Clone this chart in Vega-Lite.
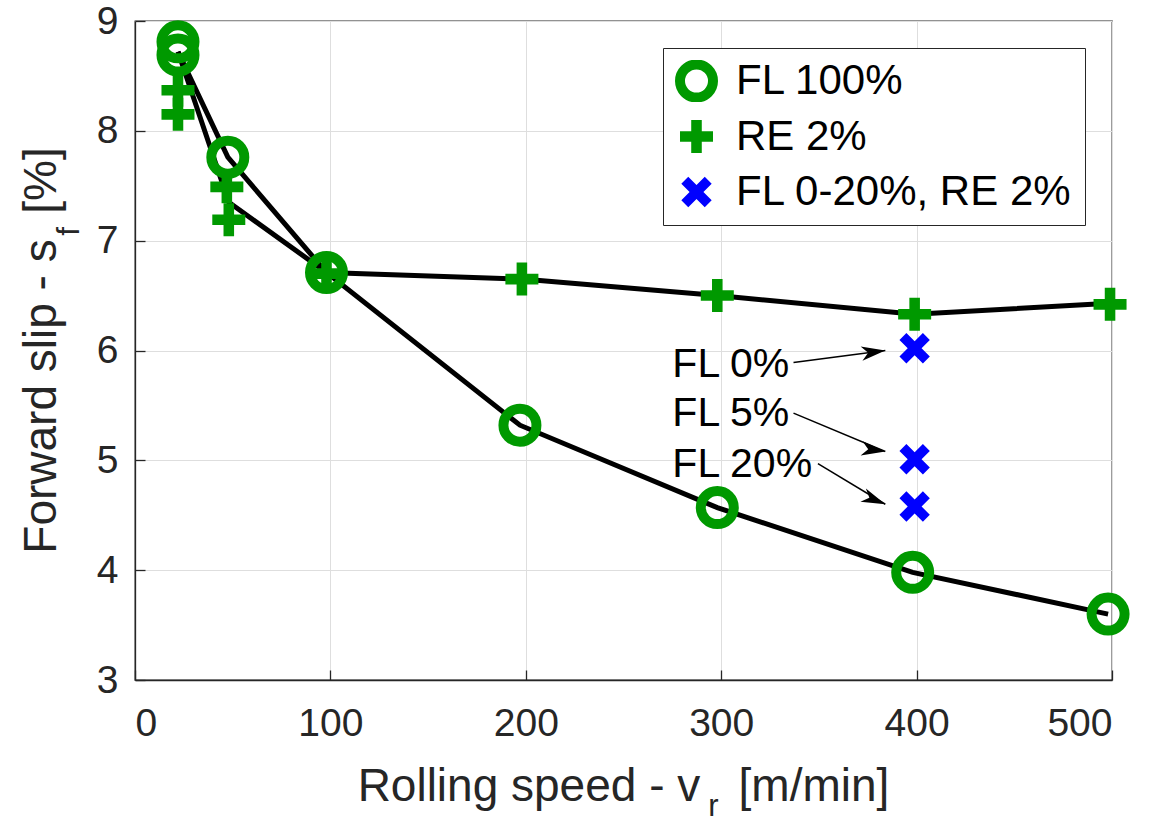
{
  "$schema": "https://vega.github.io/schema/vega-lite/v6.json",
  "width": 977,
  "height": 659,
  "autosize": "none",
  "padding": {"left": 135, "top": 21, "right": 63, "bottom": 139},
  "background": "white",
  "config": {
    "font": "Liberation Sans",
    "view": {"stroke": "#262626", "strokeWidth": 1.3},
    "axis": {
      "domainColor": "#262626", "domainWidth": 1.3,
      "tickColor": "#262626", "tickWidth": 1.3, "tickSize": -10,
      "labelFont": "Liberation Sans", "labelFontSize": 39, "labelColor": "#262626",
      "titleFont": "Liberation Sans", "titleFontSize": 46, "titleFontWeight": "normal", "titleColor": "#262626",
      "gridColor": "#dedede", "gridWidth": 1
    },
    "legend": {
      "orient": "none", "legendX": 528, "legendY": 27,
      "labelFont": "Liberation Sans", "labelFontSize": 42, "labelColor": "black",
      "symbolSize": 1089, "symbolStrokeWidth": 10,
      "strokeColor": "#262626", "fillColor": "white",
      "padding": 12, "rowPadding": 13.5, "clipHeight": 42, "labelOffset": 18, "labelLimit": 0
    }
  },
  "datasets": {
    "lines": [
      {"line": "FL 100%", "x": 22, "y": 8.72},
      {"line": "FL 100%", "x": 47.5, "y": 7.76},
      {"line": "FL 100%", "x": 98, "y": 6.71},
      {"line": "FL 100%", "x": 197, "y": 5.32},
      {"line": "FL 100%", "x": 298, "y": 4.57},
      {"line": "FL 100%", "x": 398, "y": 3.98},
      {"line": "FL 100%", "x": 498, "y": 3.6},
      {"line": "RE 2%", "x": 22, "y": 8.72},
      {"line": "RE 2%", "x": 48, "y": 7.35},
      {"line": "RE 2%", "x": 98, "y": 6.71},
      {"line": "RE 2%", "x": 198, "y": 6.65},
      {"line": "RE 2%", "x": 298, "y": 6.5},
      {"line": "RE 2%", "x": 399, "y": 6.33},
      {"line": "RE 2%", "x": 499, "y": 6.43}
    ],
    "points": [
      {"series": "FL 100%", "x": 22, "y": 8.81},
      {"series": "FL 100%", "x": 22, "y": 8.69},
      {"series": "FL 100%", "x": 47.5, "y": 7.76},
      {"series": "FL 100%", "x": 98, "y": 6.71},
      {"series": "FL 100%", "x": 197, "y": 5.32},
      {"series": "FL 100%", "x": 298, "y": 4.57},
      {"series": "FL 100%", "x": 398, "y": 3.98},
      {"series": "FL 100%", "x": 498, "y": 3.6},
      {"series": "RE 2%", "x": 22, "y": 8.37},
      {"series": "RE 2%", "x": 22, "y": 8.15},
      {"series": "RE 2%", "x": 47, "y": 7.49},
      {"series": "RE 2%", "x": 48, "y": 7.19},
      {"series": "RE 2%", "x": 98, "y": 6.7},
      {"series": "RE 2%", "x": 198, "y": 6.65},
      {"series": "RE 2%", "x": 298, "y": 6.5},
      {"series": "RE 2%", "x": 399, "y": 6.33},
      {"series": "RE 2%", "x": 499, "y": 6.42},
      {"series": "FL 0-20%, RE 2%", "x": 399, "y": 6.02},
      {"series": "FL 0-20%, RE 2%", "x": 399, "y": 5.01},
      {"series": "FL 0-20%, RE 2%", "x": 399, "y": 4.58}
    ],
    "notes": [
      {"label": "FL 0%", "tx": 275, "ty": 5.87, "x0": 337, "y0": 5.89, "x1": 384, "y1": 6.0},
      {"label": "FL 5%", "tx": 275, "ty": 5.42, "x0": 337, "y0": 5.43, "x1": 384, "y1": 5.08},
      {"label": "FL 20%", "tx": 275, "ty": 4.96, "x0": 349.5, "y0": 4.97, "x1": 384, "y1": 4.6}
    ]
  },
  "layer": [
    {
      "data": {"name": "lines"},
      "mark": {"type": "line", "color": "black", "strokeWidth": 5, "clip": false},
      "encoding": {
        "x": {"field": "x", "type": "quantitative",
          "scale": {"domain": [0, 500], "nice": false, "zero": false},
          "axis": {"values": [0, 100, 200, 300, 400, 500], "grid": true, "labelPadding": 34,
            "title": "Rolling speed - v\u00a0\u00a0\u00a0[m/min]", "titleX": 488, "titleY": 120, "titleBaseline": "alphabetic", "titleAlign": "center"}},
        "y": {"field": "y", "type": "quantitative",
          "scale": {"domain": [3, 9], "nice": false, "zero": false},
          "axis": {"values": [3, 4, 5, 6, 7, 8, 9], "grid": true, "labelPadding": 27,
            "title": "Forward slip - s\u00a0\u00a0[%]", "titleX": -80, "titleY": 329, "titleBaseline": "alphabetic", "titleAlign": "center", "titleAngle": -90}},
        "detail": {"field": "line"}
      }
    },
    {
      "data": {"name": "notes"},
      "mark": {"type": "rule", "color": "black", "strokeWidth": 1.5},
      "encoding": {
        "x": {"field": "x0", "type": "quantitative", "scale": {"domain": [0, 500], "nice": false, "zero": false},
          "axis": {"orient": "bottom", "labels": false, "ticks": false, "domain": false, "grid": false,
            "title": "r", "titleFontSize": 31, "titleX": 578, "titleY": 135, "titleBaseline": "alphabetic", "titleAlign": "center"}},
        "y": {"field": "y0", "type": "quantitative", "scale": {"domain": [3, 9], "nice": false, "zero": false},
          "axis": {"orient": "left", "labels": false, "ticks": false, "domain": false, "grid": false,
            "title": "f", "titleFontSize": 31, "titleX": -57, "titleY": 210, "titleBaseline": "alphabetic", "titleAlign": "center", "titleAngle": -90}},
        "x2": {"field": "x1"},
        "y2": {"field": "y1"}
      }
    },
    {
      "data": {"name": "notes"},
      "mark": {"type": "point", "filled": true, "color": "black", "opacity": 1, "strokeWidth": 0, "size": 2304,
        "shape": "M0,0L0.3,1L0,0.72L-0.3,1Z"},
      "encoding": {
        "x": {"field": "x1", "type": "quantitative", "scale": {"domain": [0, 500], "nice": false, "zero": false}, "axis": null},
        "y": {"field": "y1", "type": "quantitative", "scale": {"domain": [3, 9], "nice": false, "zero": false}, "axis": null},
        "angle": {"field": "label", "type": "nominal",
          "scale": {"domain": ["FL 0%", "FL 5%", "FL 20%"], "range": [82.6, 112.4, 121.5]}, "legend": null}
      }
    },
    {
      "data": {"name": "notes"},
      "mark": {"type": "text", "align": "left", "baseline": "middle", "fontSize": 41, "font": "Liberation Sans", "color": "black"},
      "encoding": {
        "x": {"field": "tx", "type": "quantitative", "scale": {"domain": [0, 500], "nice": false, "zero": false}, "axis": null},
        "y": {"field": "ty", "type": "quantitative", "scale": {"domain": [3, 9], "nice": false, "zero": false}, "axis": null},
        "text": {"field": "label"}
      }
    },
    {
      "data": {"name": "points"},
      "mark": {"type": "point", "filled": true, "opacity": 1, "size": 1089, "strokeWidth": 10, "clip": false},
      "encoding": {
        "x": {"field": "x", "type": "quantitative", "scale": {"domain": [0, 500], "nice": false, "zero": false}, "axis": null},
        "y": {"field": "y", "type": "quantitative", "scale": {"domain": [3, 9], "nice": false, "zero": false}, "axis": null},
        "shape": {"field": "series", "type": "nominal",
          "scale": {"domain": ["FL 100%", "RE 2%", "FL 0-20%, RE 2%"],
            "range": ["circle",
              "M-0.32,-1L0.32,-1L0.32,-0.32L1,-0.32L1,0.32L0.32,0.32L0.32,1L-0.32,1L-0.32,0.32L-1,0.32L-1,-0.32L-0.32,-0.32Z",
              "M0,-0.42L0.5,-0.92L0.92,-0.5L0.42,0L0.92,0.5L0.5,0.92L0,0.42L-0.5,0.92L-0.92,0.5L-0.42,0L-0.92,-0.5L-0.5,-0.92Z"]},
          "legend": {"title": null}},
        "fill": {"field": "series", "type": "nominal",
          "scale": {"domain": ["FL 100%", "RE 2%", "FL 0-20%, RE 2%"], "range": ["transparent", "#009900", "#0000ff"]},
          "legend": {"title": null}},
        "stroke": {"field": "series", "type": "nominal",
          "scale": {"domain": ["FL 100%", "RE 2%", "FL 0-20%, RE 2%"], "range": ["#009900", "transparent", "transparent"]},
          "legend": {"title": null}}
      }
    }
  ],
  "resolve": {"axis": {"x": "independent", "y": "independent"}}
}
